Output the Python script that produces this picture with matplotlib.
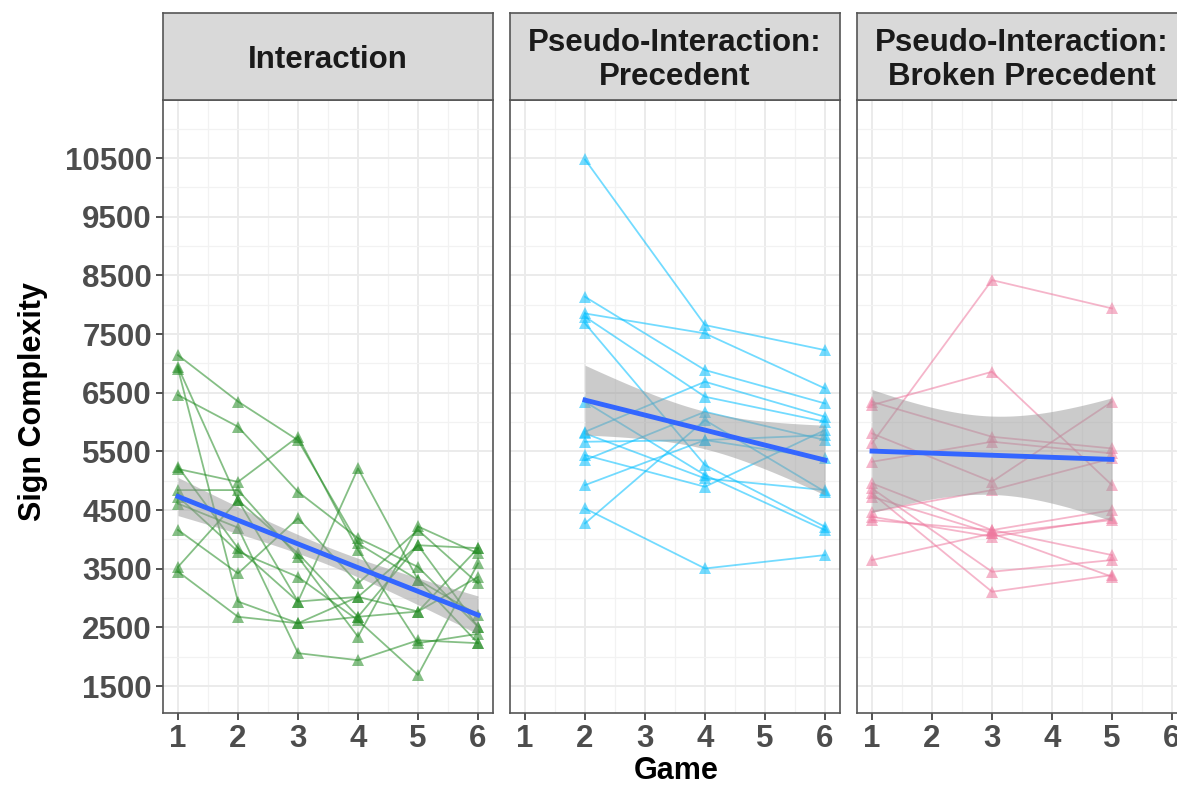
import numpy as np
import matplotlib
matplotlib.use('Agg')
import matplotlib.pyplot as plt

plt.rcParams['font.family'] = ['Liberation Sans', 'DejaVu Sans']
plt.rcParams['font.weight'] = 'bold'

panel_titles = ['Interaction', 'Pseudo-Interaction:\nPrecedent', 'Pseudo-Interaction:\nBroken Precedent']
panel_colors = ['#228B22', '#00BFFF', '#EE799F']

# Interaction: games 1-6, one row per participant
games_int = [1, 2, 3, 4, 5, 6]
vals_int = [
    [7140, 6350, 5690, 3930, 3310, 2710],
    [6940, 4670, 3760, 2680, 2770, 3360],
    [6910, 2940, 2570, 3020, 3900, 3850],
    [6460, 5920, 4810, 4020, 3530, 2510],
    [5240, 3850, 2940, 5210, 3310, 2230],
    [5200, 4980, 5750, 3820, 2230, 2390],
    [4840, 4840, 3700, 2340, 4220, 3760],
    [4730, 3790, 3360, 2620, 1690, 3590],
    [4610, 4200, 2060, 1940, 2280, 2230],
    [4160, 3420, 4360, 3250, 4160, 3250],
    [3530, 4670, 2940, 3020, 2770, 3850],
    [3450, 2680, 2570, 2680, 3900, 2510],
]

# Pseudo-Interaction: Precedent, games 2, 4, 6
games_prec = [2, 4, 6]
vals_prec = [
    [10476, 7653, 7226],
    [8135, 6886, 6317],
    [7851, 7511, 6573],
    [7795, 6431, 6005],
    [7681, 5266, 4215],
    [6346, 5096, 4158],
    [5834, 6687, 6090],
    [5806, 5039, 4840],
    [5664, 5693, 5777],
    [5437, 4897, 5863],
    [5351, 6175, 5693],
    [4925, 5693, 5380],
    [4527, 3504, 3732],
    [4272, 6033, 4812],
]

# Pseudo-Interaction: Broken Precedent, games 1, 3, 5
games_brok = [1, 3, 5]
vals_brok = [
    [5635, 8420, 7937],
    [6289, 6857, 4925],
    [6346, 5749, 5550],
    [5806, 4982, 6346],
    [5323, 5664, 5465],
    [4954, 4158, 3732],
    [4868, 3448, 3647],
    [4783, 3107, 3391],
    [4726, 4101, 3363],
    [4471, 4840, 5380],
    [4385, 4045, 4357],
    [4329, 4158, 4499],
    [3647, 4101, 4329],
]

# fitted trend (start, end) and confidence half-widths (edge, middle)
fit_start = [4730, 6374, 5505]
fit_end = [2710, 5351, 5363]
ci_edge = [325, 595, 1050]
ci_mid = [150, 320, 668]

all_games = [games_int, games_prec, games_brok]
all_vals = [vals_int, vals_prec, vals_brok]

yticks = [1500, 2500, 3500, 4500, 5500, 6500, 7500, 8500, 9500, 10500]
xticks = [1, 2, 3, 4, 5, 6]

fig = plt.figure(figsize=(11.77, 7.87), dpi=100)
W, H = 1177, 787
lefts = [163, 510, 857]
pw = 330
top, bottom = 100, 713
strip_top = 13

for i in range(3):
    ax = fig.add_axes([lefts[i] / W, (H - bottom) / H, pw / W, (bottom - top) / H])
    ax.set_xlim(0.75, 6.25)
    ax.set_ylim(1040, 11490)
    ax.set_xticks(xticks)
    ax.set_xticks(np.arange(1.5, 6, 1.0), minor=True)
    ax.set_yticks(yticks)
    ax.set_yticks(np.arange(2000, 11500, 1000), minor=True)
    ax.grid(which='major', color='#EBEBEB', lw=1.4, zorder=0)
    ax.grid(which='minor', color='#F2F2F2', lw=0.9, zorder=0)
    ax.set_axisbelow(True)
    for s in ax.spines.values():
        s.set_color('#555555')
        s.set_linewidth(1.2)
    ax.tick_params(axis='both', which='major', length=5, width=1.2, color='#333333',
                   labelsize=22.5, labelcolor='#4D4D4D', pad=3)
    ax.tick_params(which='minor', length=0)
    if i > 0:
        ax.tick_params(axis='y', which='both', left=False, labelleft=False)
    for lab in ax.get_xticklabels() + ax.get_yticklabels():
        lab.set_fontweight('bold')

    g = all_games[i]
    for row in all_vals[i]:
        ax.plot(g, row, color=panel_colors[i], alpha=0.55, lw=1.3, marker='^',
                markersize=8.5, markeredgewidth=0, zorder=2)

    # trend line with confidence band
    x0, x1 = g[0], g[-1]
    xs = np.linspace(x0, x1, 100)
    fit = fit_start[i] + (fit_end[i] - fit_start[i]) * (xs - x0) / (x1 - x0)
    xc = (x0 + x1) / 2
    half = np.sqrt(ci_mid[i] ** 2 + (ci_edge[i] ** 2 - ci_mid[i] ** 2) * ((xs - xc) / (x1 - xc)) ** 2)
    ax.fill_between(xs, fit - half, fit + half, color='#999999', alpha=0.5, lw=0, zorder=3)
    ax.plot(xs, fit, color='#3366FF', lw=3.5, zorder=4)

    # facet strip
    sax = fig.add_axes([lefts[i] / W, (H - top) / H, pw / W, (top - strip_top) / H])
    sax.set_facecolor('#D9D9D9')
    sax.set_xticks([])
    sax.set_yticks([])
    for s in sax.spines.values():
        s.set_color('#555555')
        s.set_linewidth(1.2)
    sax.text(0.5, 0.46, panel_titles[i], ha='center', va='center', fontsize=22.5,
             fontweight='bold', color='#1A1A1A', linespacing=1.15, transform=sax.transAxes)

fig.text(33 / W, 1 - 402 / H, 'Sign Complexity', rotation=90, ha='center', va='center',
         fontsize=22, fontweight='bold', color='black')
fig.text(676 / W, 1 - 771 / H, 'Game', ha='center', va='center',
         fontsize=22, fontweight='bold', color='black')

fig.savefig('out.png', dpi=100)
